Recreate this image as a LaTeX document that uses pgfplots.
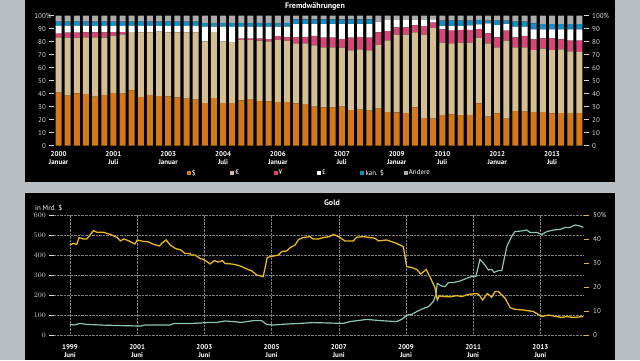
\documentclass[border=0pt]{standalone}
\usepackage{pgfplots}
\usepackage{pgfplotstable}
\pgfplotsset{compat=1.18}
\usepackage{fontspec}
\setmainfont{PT Sans}
\definecolor{bg}{RGB}{183,191,197}
\definecolor{cusd}{RGB}{212,121,26}
\definecolor{ceur}{RGB}{212,190,148}
\definecolor{cyen}{RGB}{214,70,122}
\definecolor{cgbp}{RGB}{255,255,255}
\definecolor{ccad}{RGB}{24,140,190}
\definecolor{coth}{RGB}{172,172,172}
\definecolor{cgold}{RGB}{234,184,34}
\definecolor{cteal}{RGB}{140,198,184}
\definecolor{tickc}{RGB}{215,215,215}
\definecolor{gridc}{RGB}{125,125,125}

\pgfplotstableread{
i usd eur yen gbp cad oth
0 40.8 42.5 2.9 5.9 3.3 4.6
1 38.5 44.6 3.8 5.2 3.3 4.6
2 40.3 42.8 3.8 5.2 3.3 4.6
3 39.7 43.6 3.9 4.9 3.3 4.6
4 37.7 45.6 3.9 4.9 3.3 4.6
5 39.0 44.1 4.1 4.9 3.3 4.6
6 40.5 44.1 2.8 4.7 3.3 4.6
7 40.0 45.6 1.8 4.7 3.3 4.6
8 42.6 44.8 0 4.7 3.3 4.6
9 37.4 49.8 0 4.9 3.3 4.6
10 39.0 48.2 0 4.9 3.3 4.6
11 38.2 49.5 0 4.4 3.3 4.6
12 38.0 49.2 0 4.9 3.3 4.6
13 37.2 50.0 0 4.9 3.3 4.6
14 36.2 51.0 0 4.9 3.3 4.6
15 35.4 51.8 0 4.9 3.3 4.6
16 32.8 47.5 0 11.2 2.9 5.6
17 36.7 50.7 0 4.1 2.9 5.6
18 33.0 47.3 0 11.2 2.9 5.6
19 32.8 46.9 0 11.8 2.9 5.6
20 34.9 46.4 1.0 9.2 2.9 5.6
21 35.9 45.4 1.0 9.2 2.9 5.6
22 34.4 46.4 1.5 9.2 2.9 5.6
23 34.1 46.2 1.7 9.5 2.9 5.6
24 33.6 47.7 3.0 7.2 2.9 5.6
25 33.6 47.2 3.0 7.7 2.9 5.6
26 32.6 46.1 4.6 10.3 3.6 2.8
27 32.0 46.7 5.0 9.9 3.6 2.8
28 30.0 47.2 7.2 9.2 3.6 2.8
29 29.5 46.1 7.5 10.5 3.6 2.8
30 29.5 46.1 7.5 10.5 3.6 2.8
31 30.0 45.4 6.6 11.6 3.6 2.8
32 27.4 45.9 9.8 10.5 3.6 2.8
33 27.7 46.4 9.7 9.8 3.6 2.8
34 26.9 46.4 9.8 10.5 3.6 2.8
35 28.5 48.9 9.8 8.2 0 4.6
36 25.9 55.1 7.2 8.3 0 3.5
37 25.6 59.8 5.6 5.5 0 3.5
38 25.1 60.3 5.6 5.5 0 3.5
39 29.5 57.7 5.4 3.9 0 3.5
40 21.3 64.1 6.6 4.5 0 3.5
41 20.8 69.7 4.1 2.6 0 2.8
42 23.8 55.4 10.3 2.5 4.2 3.8
43 24.1 54.6 9.8 3.5 4.2 3.8
44 23.6 55.6 9.8 3.0 4.2 3.8
45 23.8 55.4 9.8 3.5 3.7 3.8
46 32.6 50.5 6.6 3.6 3.4 3.3
47 22.3 56.4 7.7 7.7 2.1 3.8
48 24.9 50.7 7.7 9.5 3.4 3.8
49 20.8 60.0 7.7 5.1 2.6 3.8
50 26.7 48.9 7.7 8.2 3.9 4.6
51 26.2 49.4 8.8 7.1 3.9 4.6
52 25.9 47.7 8.2 7.7 4.6 5.9
53 25.9 48.7 8.0 6.9 4.1 6.4
54 24.9 48.7 9.0 6.9 4.1 6.4
55 25.1 49.0 7.7 7.7 4.1 6.4
56 25.1 47.5 8.2 8.7 4.1 6.4
57 25.1 47.0 8.7 8.7 4.1 6.4
}\fx

\pgfplotstableread{
t v
1999.5 53
1999.62 50
1999.8 58
2000.0 53
2000.4 50
2001.0 47
2001.6 45
2001.73 50
2002.48 50
2002.58 57
2003.17 58
2003.57 62
2003.87 63
2004.11 70
2004.36 67
2004.61 63
2004.96 72
2005.2 72
2005.35 53
2005.55 50
2005.95 55
2006.35 58
2006.74 62
2007.22 60
2007.63 58
2007.83 67
2008.33 78
2008.73 72
2009.22 67
2009.37 78
2009.54 100
2009.67 103
2009.82 117
2010.02 133
2010.17 142
2010.31 167
2010.39 200
2010.43 258
2010.56 245
2010.66 242
2010.76 262
2010.91 262
2011.11 270
2011.3 283
2011.45 292
2011.58 292
2011.7 378
2011.85 350
2011.95 325
2012.05 328
2012.12 313
2012.25 322
2012.35 322
2012.5 442
2012.64 492
2012.74 517
2012.94 520
2013.09 525
2013.19 513
2013.39 513
2013.54 503
2013.69 517
2013.89 525
2014.08 528
2014.23 537
2014.38 538
2014.53 550
2014.68 545
2014.78 538
}\teal

\pgfplotstableread{
t p
1999.5 37.5
1999.6 38.2
1999.7 37.8
1999.77 40.6
1999.9 40.0
2000.0 40.0
2000.2 43.5
2000.3 42.8
2000.5 42.8
2000.7 41.9
2000.9 40.7
2001.0 39.2
2001.1 40.0
2001.24 39.3
2001.43 37.9
2001.5 39.6
2001.68 39.0
2001.83 38.8
2001.98 37.8
2002.16 37.1
2002.23 38.2
2002.36 39.6
2002.48 37.5
2002.63 36.1
2002.8 35.4
2002.92 34.0
2003.07 34.0
2003.1 33.3
2003.22 33.3
2003.37 31.9
2003.47 31.5
2003.57 30.6
2003.67 29.6
2003.79 31.0
2003.91 30.4
2004.04 31.0
2004.11 29.8
2004.31 29.6
2004.46 29.2
2004.61 28.5
2004.76 27.5
2004.91 26.7
2005.06 25.0
2005.25 24.3
2005.37 32.3
2005.55 32.9
2005.7 33.3
2005.8 34.8
2005.95 35.0
2006.05 36.4
2006.2 37.5
2006.3 39.8
2006.44 40.6
2006.64 41.0
2006.74 40.0
2006.89 40.0
2007.04 40.6
2007.22 41.0
2007.34 41.9
2007.49 41.0
2007.68 39.2
2007.93 39.2
2008.03 40.7
2008.23 41.0
2008.43 40.6
2008.58 40.3
2008.68 39.2
2008.92 39.6
2009.07 38.9
2009.22 38.2
2009.42 36.8
2009.52 28.5
2009.67 28.1
2009.82 27.3
2009.94 25.4
2010.1 27.3
2010.21 24.3
2010.36 19.8
2010.43 14.6
2010.49 16.3
2010.66 16.0
2010.86 16.0
2011.01 16.4
2011.16 16.0
2011.35 16.9
2011.6 17.3
2011.68 16.7
2011.78 14.6
2011.92 17.3
2012.05 15.7
2012.15 18.1
2012.25 18.1
2012.35 16.7
2012.45 15.3
2012.6 11.4
2012.74 10.7
2012.99 10.4
2013.29 9.8
2013.54 7.7
2013.74 8.3
2013.98 7.7
2014.13 7.3
2014.28 7.7
2014.48 7.3
2014.78 7.7
}\gold

\newcommand{\sm}{\fontsize{7}{8}\selectfont}
\newcommand{\lb}[1]{\makebox[37bp][l]{#1}}

\begin{document}
\begin{tikzpicture}[x=1bp,y=1bp]
\useasboundingbox (0,0) rectangle (640,360);
\fill[bg] (0,0) rectangle (640,360);
\fill[black] (25,178) rectangle (615,360);
\fill[black] (25,0) rectangle (615,167);

% ---------- top: Fremdwaehrungen ----------
\begin{axis}[
  at={(54bp,214.3bp)}, anchor=south west, scale only axis,
  width=530bp, height=130bp,
  ybar stacked, bar width=6bp,
  xmin=-0.5, xmax=57.5, ymin=0, ymax=100,
  axis line style={draw=none},
  ytick={0,10,...,100},
  yticklabels={0,10,20,30,40,50,60,70,80,90,{100\rlap{\%}}},
  ytick pos=left, tick align=outside, major tick length=5bp,
  ytick style={tickc, line width=0.6bp},
  yticklabel style={font=\sm, text=tickc, inner sep=0pt, xshift=-3bp},
  xtick={0,6,12,18,24,31,37,42,48,54},
  xticklabels={{2000\\Januar},{2001\\Juli},{2003\\Januar},{2004\\Juli},{2006\\Januar},{2007\\Juli},{2009\\Januar},{2010\\Juli},{2012\\Januar},{2013\\Juli}},
  xtick style={draw=none},
  xticklabel style={font=\sm\bfseries, text=white, align=center, inner sep=0pt, yshift=-0.5bp},
  legend columns=6,
  legend style={draw=none, fill=none, text=white, font=\sm, at={(0.25,-0.21)}, anchor=west,
     inner sep=0pt, nodes={inner sep=1.2bp}},
  legend image code/.code={\fill[#1] (0bp,-2bp) rectangle (4bp,2bp);},
]
\addplot[fill=cusd, draw=none] table[x=i, y=usd] {\fx};
\addplot[fill=ceur, draw=none] table[x=i, y=eur] {\fx};
\addplot[fill=cyen, draw=none] table[x=i, y=yen] {\fx};
\addplot[fill=cgbp, draw=none] table[x=i, y=gbp] {\fx};
\addplot[fill=ccad, draw=none] table[x=i, y=cad] {\fx};
\addplot[fill=coth, draw=none] table[x=i, y=oth] {\fx};
\legend{\lb{\$},\lb{€},\lb{¥},\lb{£},\lb{kan. \$},\lb{Andere}}
\end{axis}
\begin{axis}[
  at={(54bp,214.3bp)}, anchor=south west, scale only axis,
  width=530bp, height=130bp,
  xmin=-0.5, xmax=57.5, ymin=0, ymax=100,
  hide x axis, axis y line*=right, axis line style={draw=none},
  ytick={0,10,...,100},
  yticklabels={0,10,20,30,40,50,60,70,80,90,100\%},
  tick align=outside, major tick length=5bp,
  ytick style={tickc, line width=0.6bp},
  yticklabel style={font=\sm, text=tickc, inner sep=0pt, anchor=west, xshift=3bp},
]
\end{axis}
\node[font=\fontsize{8}{9}\selectfont\bfseries, text=white] at (315,354) {Fremdwährungen};

% ---------- bottom: Gold ----------
\begin{axis}[
  at={(54bp,25bp)}, anchor=south west, scale only axis,
  width=530bp, height=120bp,
  xmin=1999.024, xmax=2014.798, ymin=0, ymax=600,
  axis line style={draw=none},
  ytick={0,100,...,600},
  ytick pos=left, tick align=outside, major tick length=5bp,
  ytick style={tickc, line width=0.6bp},
  yticklabel style={font=\sm, text=tickc, inner sep=0pt, xshift=-3bp},
  xtick={1999.5,2001.5,2003.5,2005.5,2007.5,2009.5,2011.5,2013.5},
  xticklabels={{1999\\Juni},{2001\\Juni},{2003\\Juni},{2005\\Juni},{2007\\Juni},{2009\\Juni},{2011\\Juni},{2013\\Juni}},
  xtick style={draw=none},
  xticklabel style={font=\sm\bfseries, text=white, align=center, inner sep=0pt, yshift=-4bp},
  grid=major, major grid style={gridc, densely dotted, line width=0.5bp},
]
\addplot[cteal, line width=1.2bp, no marks] table[x=t, y=v] {\teal};
\end{axis}
\begin{axis}[
  at={(54bp,25bp)}, anchor=south west, scale only axis,
  width=530bp, height=120bp,
  xmin=1999.024, xmax=2014.798, ymin=0, ymax=50,
  hide x axis, axis y line*=right, axis line style={draw=none},
  ytick={0,10,...,50},
  yticklabels={0,10,20,30,40,50\%},
  tick align=outside, major tick length=5bp,
  ytick style={cgold, line width=0.7bp},
  yticklabel style={font=\sm, text=tickc, inner sep=0pt, anchor=west, xshift=4bp},
]
\addplot[cgold, line width=1.3bp, no marks] table[x=t, y=p] {\gold};
\end{axis}
\node[font=\fontsize{8}{9}\selectfont\bfseries, text=white] at (332,157) {Gold};
\node[font=\sm, text=white, anchor=west, inner sep=0pt] at (35,152) {in Mrd. \$};
\end{tikzpicture}
\end{document}
